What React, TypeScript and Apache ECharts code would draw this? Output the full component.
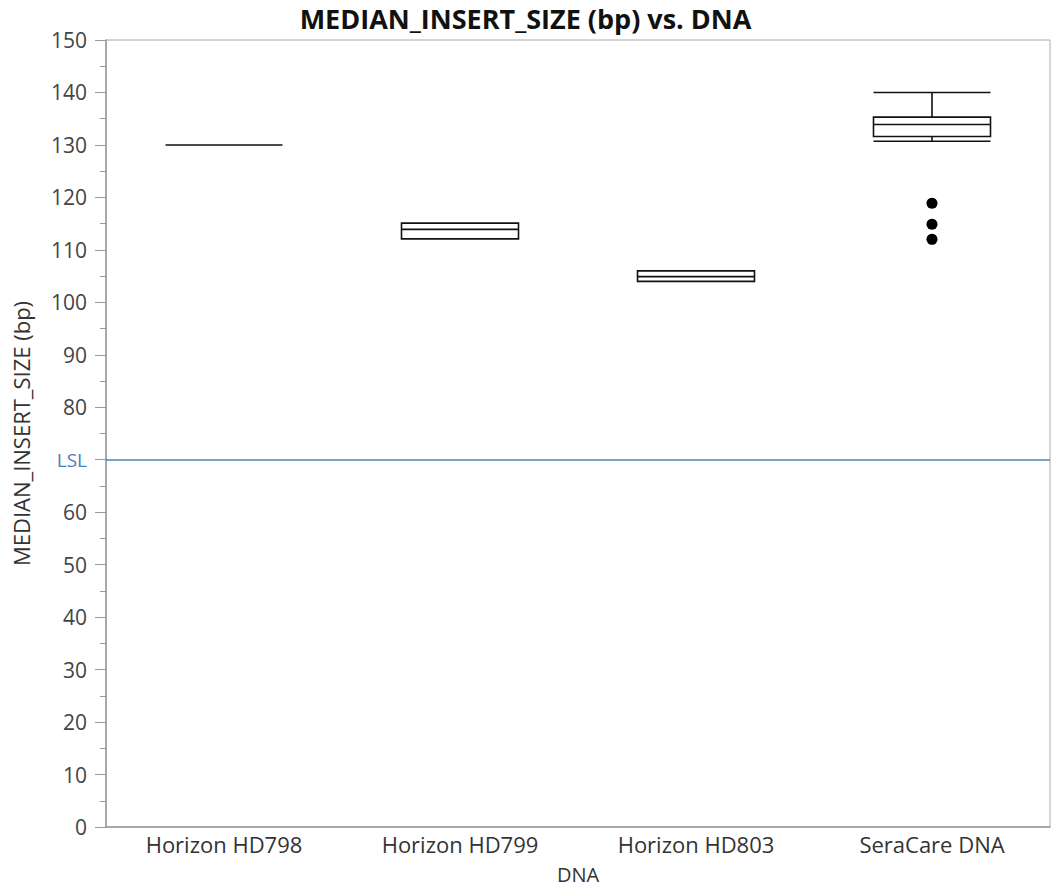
import React, { useEffect, useRef } from "react";
import * as echarts from "echarts";

const categories = ["Horizon HD798", "Horizon HD799", "Horizon HD803", "SeraCare DNA"];
// [min, Q1, median, Q3, max]
const boxValues = [
  [130, 130, 130, 130, 130],
  [112.1, 112.1, 113.9, 115.1, 115.1],
  [104, 104, 104.9, 106, 106],
  [130.7, 131.6, 133.9, 135.3, 140],
];
const outliers = [
  [3, 118.9],
  [3, 114.9],
  [3, 112.0],
];
const lslValue = 70;
const yTicks = { min: 0, max: 150, interval: 10 };

export default function App() {
  const ref = useRef<HTMLDivElement>(null);
  useEffect(() => {
    if (!ref.current) return;
    const chart = echarts.init(ref.current, null, { renderer: "svg" });
    const font = "'Open Sans', 'Noto Sans', sans-serif";
    chart.setOption({
      animation: false,
      backgroundColor: "#ffffff",
      textStyle: { fontFamily: font },
      title: {
        text: "MEDIAN_INSERT_SIZE (bp) vs. DNA",
        left: "center",
        top: 4,
        padding: 0,
        textStyle: { fontSize: 27, lineHeight: 28, fontWeight: "bold", color: "#111", fontFamily: font },
      },
      grid: {
        left: 106,
        right: 1,
        top: 40,
        bottom: 62,
        show: true,
        borderColor: "#aaaaaa",
        borderWidth: 1,
        containLabel: false,
        outerBoundsMode: "none",
      },
      xAxis: {
        type: "category",
        data: categories,
        name: "DNA",
        nameLocation: "middle",
        nameGap: 37,
        nameTextStyle: { fontSize: 20, color: "#333" },
        axisLine: { show: true, lineStyle: { color: "#999999", width: 1.5 } },
        axisTick: { show: false },
        axisLabel: { fontSize: 22, color: "#333", margin: 6 },
        splitLine: { show: false },
      },
      yAxis: {
        type: "value",
        min: yTicks.min,
        max: yTicks.max,
        interval: yTicks.interval,
        name: "MEDIAN_INSERT_SIZE (bp)",
        nameLocation: "middle",
        nameGap: 74,
        nameTextStyle: { fontSize: 22, color: "#333" },
        axisLine: { show: true, lineStyle: { color: "#999999", width: 1.5 } },
        axisTick: { show: true, length: 11, lineStyle: { color: "#999999" } },
        minorTick: { show: true, splitNumber: 2, length: 6, lineStyle: { color: "#999999" } },
        splitLine: { show: false },
        axisLabel: {
          fontSize: 21,
          color: "#444",
          margin: 19,
          formatter: (v: number) => (v === lslValue ? "{lsl|LSL}" : String(v)),
          rich: { lsl: { fontSize: 19, color: "#4a7fb5", fontFamily: font } },
        },
      },
      series: [
        {
          type: "boxplot",
          data: boxValues,
          boxWidth: [117, 117],
          itemStyle: { color: "rgba(255,255,255,0)", borderColor: "#111", borderWidth: 1.6 },
          markLine: {
            silent: true,
            symbol: "none",
            label: { show: false },
            lineStyle: { color: "#4a86b8", type: "solid", width: 1.5 },
            data: [{ yAxis: lslValue }],
          },
        },
        {
          type: "scatter",
          data: outliers,
          symbol: "circle",
          symbolSize: 11,
          itemStyle: { color: "#000", opacity: 1 },
        },
      ],
    });
    return () => chart.dispose();
  }, []);
  return (
    <div
      ref={ref}
      style={{ position: "absolute", left: 0, top: 0, width: 1051, height: 889, overflow: "hidden" }}
    />
  );
}
